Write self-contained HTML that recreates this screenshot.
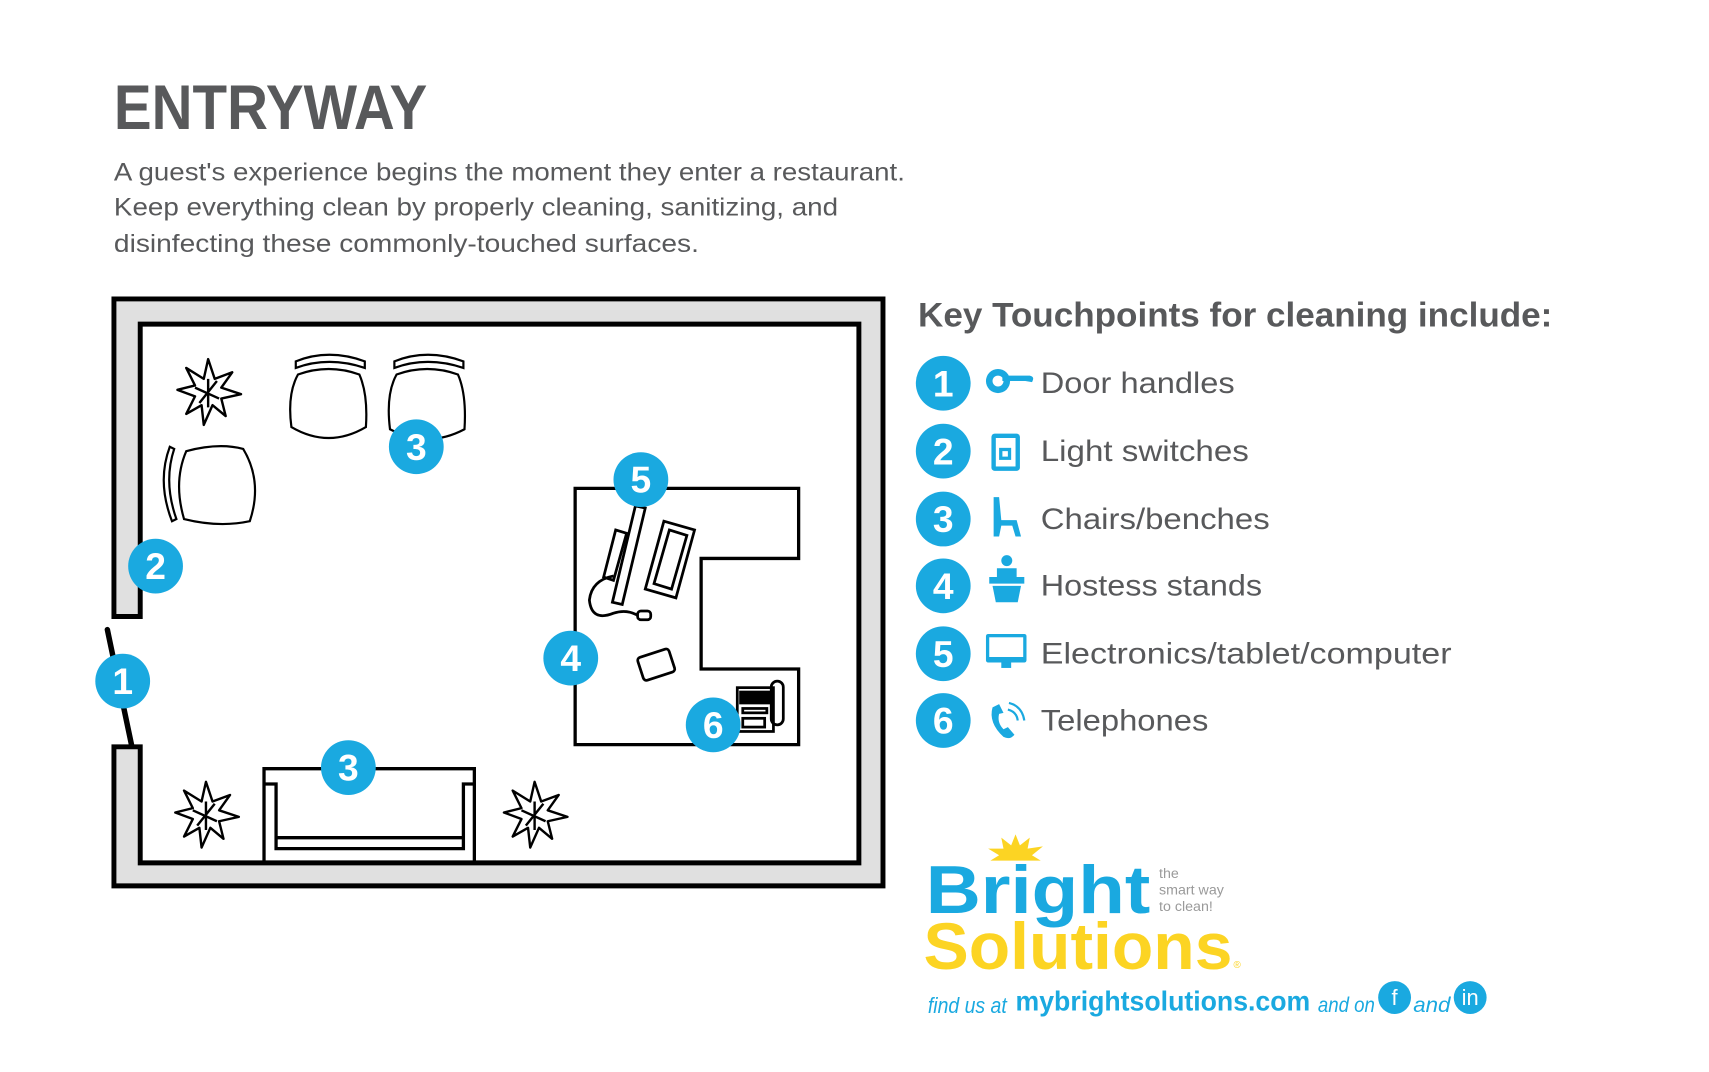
<!DOCTYPE html>
<html><head><meta charset="utf-8"><style>
html,body{margin:0;padding:0;background:#fff;width:1709px;height:1072px;overflow:hidden}
svg{display:block}
text{font-family:"Liberation Sans",sans-serif}
</style></head><body>
<svg width="1709" height="1072" viewBox="0 0 1560 979" preserveAspectRatio="none" xmlns="http://www.w3.org/2000/svg">
<defs>
<g id="plant" fill="#fff" stroke="#000" stroke-width="2.2" stroke-linejoin="round">
<path d="M0,-30 L6,-12 L22,-18 L12,-4 L30,2 L12,6 L16,22 L4,12 L-4,30 L-6,12 L-20,20 L-12,4 L-28,-2 L-12,-6 L-20,-22 L-4,-12 Z"/>
<path d="M0,-12 L0,14 M-12,-4 L10,6 M8,-10 L-8,10"/>
</g>
</defs>
<text x="104" y="118" font-size="58" font-weight="bold" fill="#58595b" textLength="286" lengthAdjust="spacingAndGlyphs">ENTRYWAY</text>
<g fill="#58595b" font-size="23">
<text x="104" y="165" textLength="722" lengthAdjust="spacingAndGlyphs">A guest's experience begins the moment they enter a restaurant.</text>
<text x="104" y="197" textLength="661" lengthAdjust="spacingAndGlyphs">Keep everything clean by properly cleaning, sanitizing, and</text>
<text x="104" y="230" textLength="534" lengthAdjust="spacingAndGlyphs">disinfecting these commonly-touched surfaces.</text>
</g>
<path d="M104,563 V273 H806 V809 H104 V682 H128 V788 H784 V296 H128 V563 Z" fill="#e0e0e0" stroke="#000" stroke-width="4.5"/>
<line x1="98" y1="575" x2="120" y2="680" stroke="#000" stroke-width="5" stroke-linecap="round"/>
<g fill="#fff" stroke="#000" stroke-width="2">
<path d="M270,330 Q300,318 333,330 L333,336 Q300,325 270,336 Z"/>
<path d="M360,330 Q390,318 423,330 L423,336 Q390,325 360,336 Z"/>
<path d="M272,342 Q300,332 328,342 Q336,360 334,390 Q300,410 266,390 Q262,360 272,342 Z"/>
<path d="M362,342 Q390,332 418,342 Q426,360 424,392 Q390,410 356,392 Q352,360 362,342 Z"/>
<path d="M155,408 Q143,440 157,476 L161,474 Q149,440 159,410 Z"/>
<path d="M170,412 Q200,404 222,410 Q240,440 228,476 Q200,482 168,474 Q158,440 170,412 Z"/>
</g>
<use href="#plant" x="190" y="358"/>
<use href="#plant" x="188" y="744"/>
<use href="#plant" x="488" y="744"/>
<g fill="none" stroke="#000" stroke-width="3">
<path d="M241,788 V702 H433 V788"/>
<path d="M241,716 H252 V775 H423 V716 H433"/>
<line x1="252" y1="765" x2="423" y2="765"/>
</g>
<path d="M525,446 H729 V510 H640 V611 H729 V680 H525 Z" fill="#fff" stroke="#000" stroke-width="3"/>
<g fill="none" stroke="#000" stroke-width="2.5">
<path d="M580,462 L589,464 L568,552 L559,550 Z"/>
<path d="M562,484 L572,487 L560,530 L551,527 Z"/>
<path d="M606,476 L634,484 L617,546 L589,538 Z"/>
<path d="M611,484 L627,489 L613,538 L597,533 Z"/>
<path d="M560,526 Q540,530 538,548 Q540,568 560,560 Q572,556 582,562"/>
<rect x="582" y="558" width="12" height="8" rx="3"/>
<rect x="584" y="596" width="30" height="22" rx="3" transform="rotate(-18 599 607)"/>
<rect x="673" y="628" width="33" height="40"/>
<rect x="676" y="632" width="26" height="10" fill="#000"/>
<rect x="678" y="647" width="22" height="4"/>
<rect x="678" y="656" width="20" height="8"/>
<rect x="704" y="622" width="11" height="40" rx="5.5"/>
</g>
<g fill="#1aa9e0">
<circle cx="112" cy="622" r="25"/><circle cx="142" cy="517" r="25"/>
<circle cx="380" cy="408" r="25"/><circle cx="318" cy="701" r="25"/>
<circle cx="521" cy="601" r="25"/><circle cx="585" cy="438" r="25"/>
<circle cx="651" cy="662" r="25"/>
</g>
<g fill="#fff" font-size="34" font-weight="bold" text-anchor="middle">
<text x="112" y="634">1</text><text x="142" y="529">2</text>
<text x="380" y="420">3</text><text x="318" y="713">3</text>
<text x="521" y="613">4</text><text x="585" y="450">5</text>
<text x="651" y="674">6</text>
</g>
<text x="838" y="298" font-size="31" font-weight="bold" fill="#58595b" textLength="579" lengthAdjust="spacingAndGlyphs">Key Touchpoints for cleaning include:</text>
<g fill="#1aa9e0">
<circle cx="861" cy="350" r="25"/><circle cx="861" cy="412" r="25"/>
<circle cx="861" cy="474" r="25"/><circle cx="861" cy="535" r="25"/>
<circle cx="861" cy="597" r="25"/><circle cx="861" cy="658" r="25"/>
</g>
<g fill="#fff" font-size="34" font-weight="bold" text-anchor="middle">
<text x="861" y="362">1</text><text x="861" y="424">2</text><text x="861" y="486">3</text>
<text x="861" y="547">4</text><text x="861" y="609">5</text><text x="861" y="670">6</text>
</g>
<g fill="#1aa9e0">
<circle cx="911" cy="348" r="11"/><circle cx="911" cy="348" r="5" fill="#fff"/><path d="M915,343 H940 Q945,344 942,349 L936,348 H915 Z"/>
<rect x="905" y="396" width="26" height="34" rx="3"/><rect x="909" y="400" width="18" height="26" fill="#fff"/><rect x="912" y="409" width="11" height="11"/><rect x="915" y="412" width="5" height="5" fill="#fff"/>
<path d="M907,454 H912 L914,475 H928 L932,490 H927 L924,480 H914 L912,490 H907 Z"/>
<circle cx="919" cy="512" r="5"/><path d="M910,519 H928 V527 H935 V533 H903 V527 H910 Z"/><path d="M906,535 H932 L929,550 H909 Z"/>
<rect x="900" y="579" width="37" height="26" rx="2"/><rect x="903" y="582" width="31" height="18" fill="#fff"/><rect x="914" y="605" width="9" height="5"/>
<path d="M906,646 Q902,660 916,673 Q922,676 926,671 L920,664 L916,666 Q910,660 912,652 L916,651 L912,643 Z"/>
</g>
<g fill="none" stroke="#1aa9e0" stroke-width="2"><path d="M920,648 Q928,650 929,658"/><path d="M921,642 Q933,645 935,658"/></g>
<g fill="#58595b" font-size="27">
<text x="950" y="359" textLength="177" lengthAdjust="spacingAndGlyphs">Door handles</text>
<text x="950" y="421" textLength="190" lengthAdjust="spacingAndGlyphs">Light switches</text>
<text x="950" y="483" textLength="209" lengthAdjust="spacingAndGlyphs">Chairs/benches</text>
<text x="950" y="544" textLength="202" lengthAdjust="spacingAndGlyphs">Hostess stands</text>
<text x="950" y="606" textLength="375" lengthAdjust="spacingAndGlyphs">Electronics/tablet/computer</text>
<text x="950" y="667" textLength="153" lengthAdjust="spacingAndGlyphs">Telephones</text>
</g>
<path d="M927,762 L931,772 L940,765 L938,775 L952,773 L942,781 L950,786 L904,786 L912,781 L902,775 L916,775 L914,765 L923,772 Z" fill="#fcd423"/>
<text x="845" y="834" font-size="62" font-weight="bold" fill="#1aa9e0" textLength="205" lengthAdjust="spacingAndGlyphs">Bright</text>
<text x="843" y="885" font-size="60" font-weight="bold" fill="#fcd423" textLength="282" lengthAdjust="spacingAndGlyphs">Solutions</text>
<text x="1126" y="884" font-size="9" fill="#fcd423">®</text>
<g fill="#9a9a9a" font-size="13"><text x="1058" y="802">the</text><text x="1058" y="817">smart way</text><text x="1058" y="832">to clean!</text></g>
<g fill="#1aa9e0">
<text x="847" y="925" font-size="20" font-style="italic" font-family="Liberation Serif,serif" textLength="72" lengthAdjust="spacingAndGlyphs">find us at</text>
<text x="927" y="923" font-size="25" font-weight="bold" textLength="269" lengthAdjust="spacingAndGlyphs">mybrightsolutions.com</text>
<text x="1203" y="924" font-size="19" font-style="italic" font-family="Liberation Serif,serif" textLength="52" lengthAdjust="spacingAndGlyphs">and on</text>
<circle cx="1273" cy="911" r="15"/>
<text x="1290" y="924" font-size="19" font-style="italic" font-family="Liberation Serif,serif" textLength="34" lengthAdjust="spacingAndGlyphs">and</text>
<circle cx="1342" cy="911" r="15"/>
</g>
<g fill="#fff" font-size="20" text-anchor="middle"><text x="1273" y="918">f</text><text x="1342" y="918">in</text></g>
</svg>
</body></html>
